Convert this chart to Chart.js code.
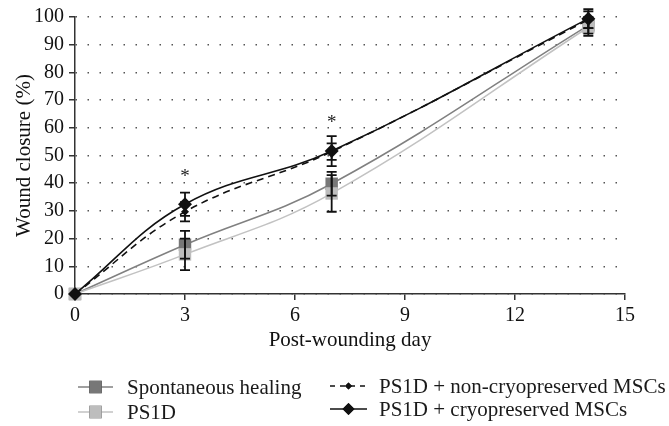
<!DOCTYPE html>
<html>
<head>
<meta charset="utf-8">
<script src="https://cdn.jsdelivr.net/npm/chart.js@4/dist/chart.umd.min.js"></script>
<style>
  html, body { margin: 0; padding: 0; background: #fff; }
  #wrap { width: 669px; height: 426px; }
</style>
</head>
<body>
<div id="wrap"><canvas id="c" width="669" height="426"></canvas></div>
<script>
// ---- data ----
const days = [0, 3, 7, 14];
const spontaneous = [0, 17.8, 39.8, 97.0];
const ps1d = [0, 14.3, 36.3, 96.3];
const nonCryo = [0, 29.7, 51.4, 99.0];
const cryo = [0, 32.4, 51.6, 99.4];
const errSpontaneous = [0, 5.0, 4.3, 3.0];
const errPs1d = [0, 5.7, 6.6, 3.1];
const errNonCryo = [0, 3.5, 3.0, 3.0];
const errCryo = [0, 4.2, 5.4, 3.4];
const xTicks = [0, 3, 6, 9, 12, 15];
const yTicks = [0, 10, 20, 30, 40, 50, 60, 70, 80, 90, 100];
const starDays = [3, 7];
const starValues = [43.5, 63.0];
const labels = ['Spontaneous healing', 'PS1D', 'PS1D + non-cryopreserved MSCs', 'PS1D + cryopreserved MSCs'];

const FONT = '"Liberation Serif", "DejaVu Serif", serif';
const pts = (ys) => days.map((d, i) => ({x: d, y: ys[i]}));

const datasets = [
  {label: labels[3], data: pts(cryo), err: errCryo, borderColor: '#111', backgroundColor: '#111',
   borderWidth: 1.6, pointStyle: 'rectRot', pointRadius: 7, legendRadius: 6, dash: []},
  {label: labels[2], data: pts(nonCryo), err: errNonCryo, borderColor: '#111', backgroundColor: '#111',
   borderWidth: 1.6, borderDash: [7, 5], pointStyle: 'rectRot', pointRadius: 4, legendRadius: 3.5, dash: [5, 5]},
  {label: labels[1], data: pts(ps1d), err: errPs1d, borderColor: '#c2c2c2', backgroundColor: '#bdbdbd',
   borderWidth: 1.5, pointStyle: 'rect', pointRadius: 8.8, legendRadius: 8.8, dash: []},
  {label: labels[0], data: pts(spontaneous), err: errSpontaneous, borderColor: '#808080', backgroundColor: '#777',
   borderWidth: 1.5, pointStyle: 'rect', pointRadius: 8.8, legendRadius: 8.8, dash: []}
];
datasets.forEach(d => {
  d.tension = 0.4; d.clip = false; d.pointBorderWidth = 0; d.fill = false;
  d.pointBackgroundColor = d.backgroundColor; d.pointBorderColor = d.backgroundColor;
});

const errorBars = {
  id: 'errorBars',
  afterDatasetsDraw(chart) {
    const {ctx, scales: {x, y}} = chart;
    ctx.save();
    ctx.strokeStyle = '#111';
    ctx.lineWidth = 1.8;
    chart.data.datasets.forEach(ds => {
      ds.data.forEach((p, i) => {
        const e = ds.err[i];
        if (!e) return;
        const px = x.getPixelForValue(p.x);
        const top = y.getPixelForValue(p.y + e);
        const bot = y.getPixelForValue(p.y - e);
        ctx.beginPath();
        ctx.moveTo(px, top); ctx.lineTo(px, bot);
        ctx.moveTo(px - 5, top); ctx.lineTo(px + 5, top);
        ctx.moveTo(px - 5, bot); ctx.lineTo(px + 5, bot);
        ctx.stroke();
      });
    });
    // significance stars
    ctx.fillStyle = '#222';
    ctx.font = '19px ' + FONT;
    ctx.textAlign = 'center';
    ctx.textBaseline = 'middle';
    starDays.forEach((d, i) => {
      ctx.fillText('*', x.getPixelForValue(d), y.getPixelForValue(starValues[i]) + 4);
    });
    ctx.restore();
  }
};

const customLegend = {
  id: 'customLegend',
  afterDraw(chart) {
    const {ctx} = chart;
    const order = [3, 2, 1, 0];
    const slots = [
      {x0: 78, x1: 113, tx: 127, y: 387},
      {x0: 78, x1: 113, tx: 127, y: 412},
      {x0: 330, x1: 367, tx: 379, y: 386},
      {x0: 330, x1: 367, tx: 379, y: 409}
    ];
    ctx.save();
    order.forEach((di, k) => {
      const ds = chart.data.datasets[di];
      const s = slots[k];
      ctx.strokeStyle = ds.borderColor;
      ctx.lineWidth = ds.borderWidth;
      ctx.setLineDash(ds.dash);
      ctx.beginPath();
      ctx.moveTo(s.x0, s.y); ctx.lineTo(s.x1, s.y);
      ctx.stroke();
      ctx.setLineDash([]);
      Chart.helpers.drawPoint(ctx, {pointStyle: ds.pointStyle, radius: ds.legendRadius, borderWidth: 0, rotation: 0},
        (s.x0 + s.x1) / 2, s.y);
      ctx.fillStyle = ds.backgroundColor;
      ctx.fill();
      ctx.fillStyle = '#1a1a1a';
      ctx.font = '21px ' + FONT;
      ctx.textAlign = 'left';
      ctx.textBaseline = 'middle';
      ctx.fillText(ds.label, s.tx, s.y + 1);
    });
    ctx.restore();
  }
};

new Chart(document.getElementById('c'), {
  type: 'line',
  data: {datasets},
  options: {
    responsive: false,
    animation: false,
    devicePixelRatio: 1,
    layout: {padding: {top: 15, right: 44, left: 0, bottom: 73}},
    plugins: {legend: {display: false}, tooltip: {enabled: false}},
    scales: {
      x: {
        type: 'linear', min: 0, max: 15,
        afterBuildTicks(s) { s.ticks = xTicks.map(v => ({value: v})); },
        afterFit(s) { s.height = 59; },
        grid: {drawOnChartArea: false, drawTicks: true, tickLength: 6, color: '#333', lineWidth: 1.5},
        border: {color: '#333', width: 1.5},
        ticks: {color: '#111', font: {family: FONT, size: 20}, padding: 4, maxRotation: 0},
        title: {display: true, text: 'Post-wounding day', color: '#111', font: {family: FONT, size: 21}, padding: {top: 0, bottom: 0}}
      },
      y: {
        type: 'linear', min: 0, max: 100,
        afterBuildTicks(s) { s.ticks = yTicks.map(v => ({value: v})); },
        afterFit(s) { s.width = 75; },
        grid: {drawOnChartArea: true, drawTicks: true, tickLength: 6, color: '#555', lineWidth: 1.5,
               tickColor: '#333', tickBorderDash: [], tickWidth: 1.5},
        border: {color: '#333', width: 1.5, dash: [1.5, 10.5]},
        ticks: {color: '#111', font: {family: FONT, size: 20}, padding: 5},
        title: {display: true, text: 'Wound closure (%)', color: '#111', font: {family: FONT, size: 21}, padding: {top: 12, bottom: 0}}
      }
    }
  },
  plugins: [errorBars, customLegend]
});
</script>
</body>
</html>
